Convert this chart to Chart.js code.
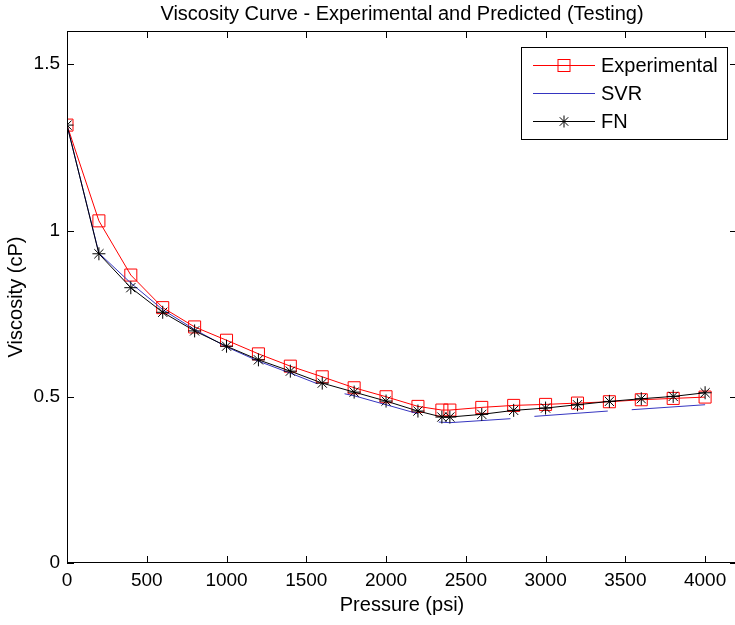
<!DOCTYPE html>
<html>
<head>
<meta charset="utf-8">
<title>Viscosity Curve</title>
<script src="https://cdn.jsdelivr.net/npm/chart.js@4.4.3/dist/chart.umd.min.js"></script>
<style>
  *{box-sizing:border-box;margin:0;padding:0}
  html,body{width:735px;height:625px;overflow:hidden;background:#fff}
  .wrap{width:737px;height:625px;position:relative}
</style>
</head>
<body>
<div class="wrap"><canvas id="chart"></canvas></div>
<script>
// values
const pressure = [0, 200, 400, 600, 800, 1000, 1200, 1400, 1600, 1800, 2000, 2200, 2350, 2400, 2600, 2800, 3000, 3200, 3400, 3600, 3800, 4000]
const experimental = [1.317, 1.029, 0.866, 0.768, 0.710, 0.670, 0.629, 0.592, 0.560, 0.527, 0.500, 0.471, 0.460, 0.460, 0.468, 0.474, 0.477, 0.481, 0.485, 0.491, 0.495, 0.499]
const fn = [1.317, 0.930, 0.828, 0.754, 0.698, 0.652, 0.611, 0.577, 0.541, 0.514, 0.487, 0.457, 0.439, 0.439, 0.447, 0.459, 0.466, 0.476, 0.486, 0.494, 0.501, 0.512]
// SVR curve is drawn in broken pieces in the reference (null = gap)
const svrPressure = [0, 200, 400, 600, 800, 1000, 1200, 1400, 1570, 1655, 1740, 1800, 2000, 2200, 2265, 2330, 2400, 2780, 2855, 2930, 3390, 3465, 3540, 4000]
const svr = [1.317, 0.932, 0.842, 0.762, 0.702, 0.650, 0.607, 0.571, 0.539, null, 0.509, 0.503, 0.476, 0.449, null, 0.424, 0.422, 0.434, null, 0.441, 0.457, null, 0.461, 0.476]
const xTicks = [0, 500, 1000, 1500, 2000, 2500, 3000, 3500, 4000]
const yTicks = [0, 0.5, 1, 1.5]
const seriesNames = ['Experimental', 'SVR', 'FN']
const chartTitle = 'Viscosity Curve - Experimental and Predicted (Testing)'

const FONT = 'Liberation Sans, Arial, Helvetica, sans-serif'
const RED = '#ff0000', BLUE = '#3535c0', BLACK = '#000'

const pts = (xs, ys) => xs.map((x, i) => ({ x, y: ys[i] }))

// matlab style box with inward ticks on all four sides, title over the axes
const boxPlugin = {
  id: 'box',
  afterDatasetsDraw(chart) {
    const { ctx, chartArea: a, scales } = chart
    const len = 7
    ctx.save()
    ctx.strokeStyle = BLACK
    ctx.lineWidth = 1
    ctx.strokeRect(a.left + 0.5, a.top + 0.5, a.right - a.left - 1, a.bottom - a.top - 1)
    ctx.beginPath()
    xTicks.forEach(v => {
      const px = Math.round(scales.x.getPixelForValue(v)) + 0.5
      ctx.moveTo(px, a.bottom); ctx.lineTo(px, a.bottom - len)
      ctx.moveTo(px, a.top); ctx.lineTo(px, a.top + len)
    })
    yTicks.forEach(v => {
      const py = Math.round(scales.y.getPixelForValue(v)) + 0.5
      ctx.moveTo(a.left, py); ctx.lineTo(a.left + len, py)
      ctx.moveTo(a.right, py); ctx.lineTo(a.right - len, py)
    })
    ctx.stroke()

    ctx.fillStyle = BLACK
    ctx.font = '20px ' + FONT
    ctx.textAlign = 'center'
    ctx.textBaseline = 'middle'
    ctx.fillText(chartTitle, (a.left + a.right) / 2, 14)
    ctx.restore()
  },
  afterDraw(chart) {
    // legend box, top right inside the axes
    const { ctx } = chart
    const bx = 521, by = 47, bw = 206, bh = 92
    ctx.save()
    ctx.fillStyle = '#fff'
    ctx.fillRect(bx, by, bw, bh)
    ctx.strokeStyle = BLACK
    ctx.lineWidth = 1
    ctx.strokeRect(bx + 0.5, by + 0.5, bw, bh)
    const rows = [18, 46, 74]
    const colors = [RED, BLUE, BLACK]
    ctx.font = '20px ' + FONT
    ctx.textBaseline = 'middle'
    rows.forEach((dy, i) => {
      const y = by + dy + 0.5
      ctx.strokeStyle = colors[i]
      ctx.beginPath(); ctx.moveTo(533, y); ctx.lineTo(595, y); ctx.stroke()
      const cx = 564
      if (i === 0) ctx.strokeRect(cx - 6, y - 6, 12, 12)
      if (i === 2) {
        ctx.beginPath()
        for (let k = 0; k < 4; k++) {
          const ang = k * Math.PI / 4
          const dx = Math.sin(ang) * 6, dyy = Math.cos(ang) * 6
          ctx.moveTo(cx - dx, y - dyy); ctx.lineTo(cx + dx, y + dyy)
        }
        ctx.stroke()
      }
      ctx.fillStyle = BLACK
      ctx.fillText(seriesNames[i], 601, y + 1)
    })
    ctx.restore()
  }
}

new Chart(document.getElementById('chart'), {
  type: 'line',
  data: {
    datasets: [
      { label: seriesNames[0], data: pts(pressure, experimental), borderColor: RED, borderWidth: 1,
        pointStyle: 'rect', pointRadius: 8.5, pointBorderColor: RED, pointBackgroundColor: 'rgba(0,0,0,0)',
        pointBorderWidth: 1, tension: 0, order: 3 },
      { label: seriesNames[1], data: pts(svrPressure, svr), borderColor: BLUE, borderWidth: 1,
        pointRadius: 0, spanGaps: false, tension: 0, order: 2 },
      { label: seriesNames[2], data: pts(pressure, fn), borderColor: BLACK, borderWidth: 1,
        pointStyle: 'star', pointRadius: 6.5, pointBorderColor: BLACK, pointBorderWidth: 1,
        tension: 0, order: 1 },
    ]
  },
  options: {
    responsive: true,
    maintainAspectRatio: false,
    animation: false,
    events: [],
    layout: { autoPadding: false, padding: { top: 31, left: 0, right: 0, bottom: 0 } },
    plugins: {
      legend: { display: false },
      tooltip: { enabled: false },
      title: { display: false },
    },
    scales: {
      x: {
        type: 'linear', min: 0, max: 4200,
        grid: { display: false, drawTicks: false },
        border: { display: false },
        afterBuildTicks: s => { s.ticks = xTicks.map(v => ({ value: v })) },
        afterFit: s => { s.height = 62; s.paddingLeft = 0; s.paddingRight = 0 },
        ticks: { color: BLACK, padding: 6, maxRotation: 0, font: { family: FONT, size: 19 }, callback: v => String(v) },
        title: { display: true, text: 'Pressure (psi)', color: BLACK, font: { family: FONT, size: 20 }, padding: { top: 1, bottom: 8 } },
      },
      y: {
        type: 'linear', min: 0, max: 1.6,
        grid: { display: false, drawTicks: false },
        border: { display: false },
        afterBuildTicks: s => { s.ticks = yTicks.map(v => ({ value: v })) },
        afterFit: s => { s.width = 67; s.paddingTop = 0; s.paddingBottom = 0 },
        ticks: { color: BLACK, padding: 7, font: { family: FONT, size: 19 }, callback: v => String(v) },
        title: { display: true, text: 'Viscosity (cP)', color: BLACK, font: { family: FONT, size: 20 }, padding: { top: 4, bottom: 5 } },
      },
    },
  },
  plugins: [boxPlugin],
})
</script>
</body>
</html>
